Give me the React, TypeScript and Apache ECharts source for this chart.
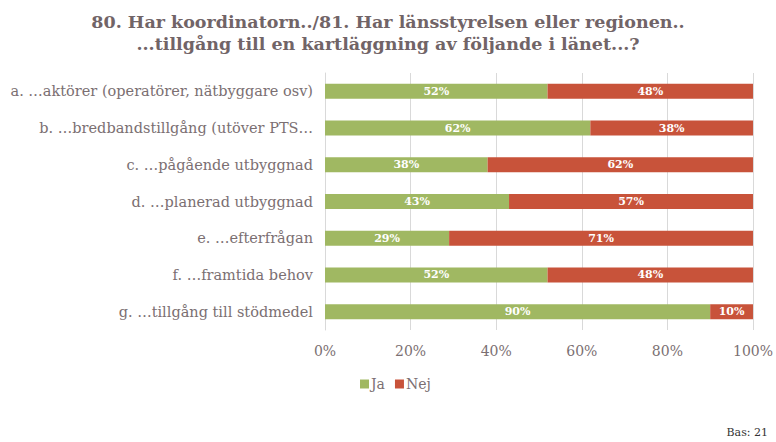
import React, { useEffect, useRef } from "react";
import * as echarts from "echarts";

const categories = [
  "a. …aktörer (operatörer, nätbyggare osv)",
  "b. …bredbandstillgång (utöver PTS…",
  "c. …pågående utbyggnad",
  "d. …planerad utbyggnad",
  "e. …efterfrågan",
  "f. …framtida behov",
  "g. …tillgång till stödmedel",
];
const jaValues = [52, 62, 38, 43, 29, 52, 90];
const nejValues = [48, 38, 62, 57, 71, 48, 10];
const seriesNames = ["Ja", "Nej"];
const titleLines = [
  "80. Har koordinatorn../81. Har länsstyrelsen eller regionen..",
  "...tillgång till en kartläggning av följande i länet...?",
];
const footnote = "Bas: 21";

const FONT = "'DejaVu Serif', 'Liberation Serif', serif";
const TEXT = "#7b6f72";

export default function App() {
  const ref = useRef<HTMLDivElement>(null);
  useEffect(() => {
    if (!ref.current) return;
    const chart = echarts.init(ref.current, null, { renderer: "svg" });
    const label = {
      show: true,
      position: "inside" as const,
      color: "#ffffff",
      fontFamily: FONT,
      fontWeight: "bold" as const,
      fontSize: 11,
      formatter: (p: any) => `${p.value}%`,
    };
    chart.setOption({
      animation: false,
      backgroundColor: "#ffffff",
      title: {
        text: titleLines.join("\n"),
        left: "center",
        top: 6,
        textStyle: {
          fontFamily: FONT,
          fontWeight: "bold",
          fontSize: 17.5,
          color: "#716467",
          lineHeight: 22,
        },
      },
      legend: {
        data: seriesNames,
        left: 355,
        top: 372,
        itemWidth: 9,
        itemHeight: 9,
        itemGap: 10,
        icon: "rect",
        textStyle: { fontFamily: FONT, fontSize: 14, color: TEXT, padding: [0, 0, 0, -3] },
      },
      graphic: [
        {
          type: "text",
          right: 8,
          top: 427,
          style: {
            text: footnote,
            fontFamily: FONT,
            fontSize: 11,
            fill: "#333333",
          },
        },
      ],
      grid: { left: 325, right: 21, top: 73, height: 257 },
      xAxis: {
        type: "value",
        min: 0,
        max: 100,
        interval: 20,
        axisLabel: {
          formatter: "{value}%",
          fontFamily: FONT,
          fontSize: 14,
          color: TEXT,
          margin: 14,
        },
        axisLine: { show: false },
        axisTick: { show: false },
        splitLine: { show: true, lineStyle: { color: "#d9d9d9", width: 1 } },
      },
      yAxis: {
        type: "category",
        data: categories,
        inverse: true,
        axisLabel: {
          fontFamily: FONT,
          fontSize: 14.5,
          color: TEXT,
          margin: 12,
        },
        axisLine: { show: true, lineStyle: { color: "#d9d9d9" } },
        axisTick: { show: false },
      },
      series: [
        {
          name: seriesNames[0],
          type: "bar",
          stack: "total",
          data: jaValues,
          barWidth: 15,
          itemStyle: { color: "#a0b862" },
          label,
        },
        {
          name: seriesNames[1],
          type: "bar",
          stack: "total",
          data: nejValues,
          barWidth: 15,
          itemStyle: { color: "#c8533a" },
          label,
        },
      ],
    });
    return () => chart.dispose();
  }, []);
  return (
    <div
      ref={ref}
      style={{ position: "absolute", left: 0, top: 0, width: 776, height: 442 }}
    />
  );
}
